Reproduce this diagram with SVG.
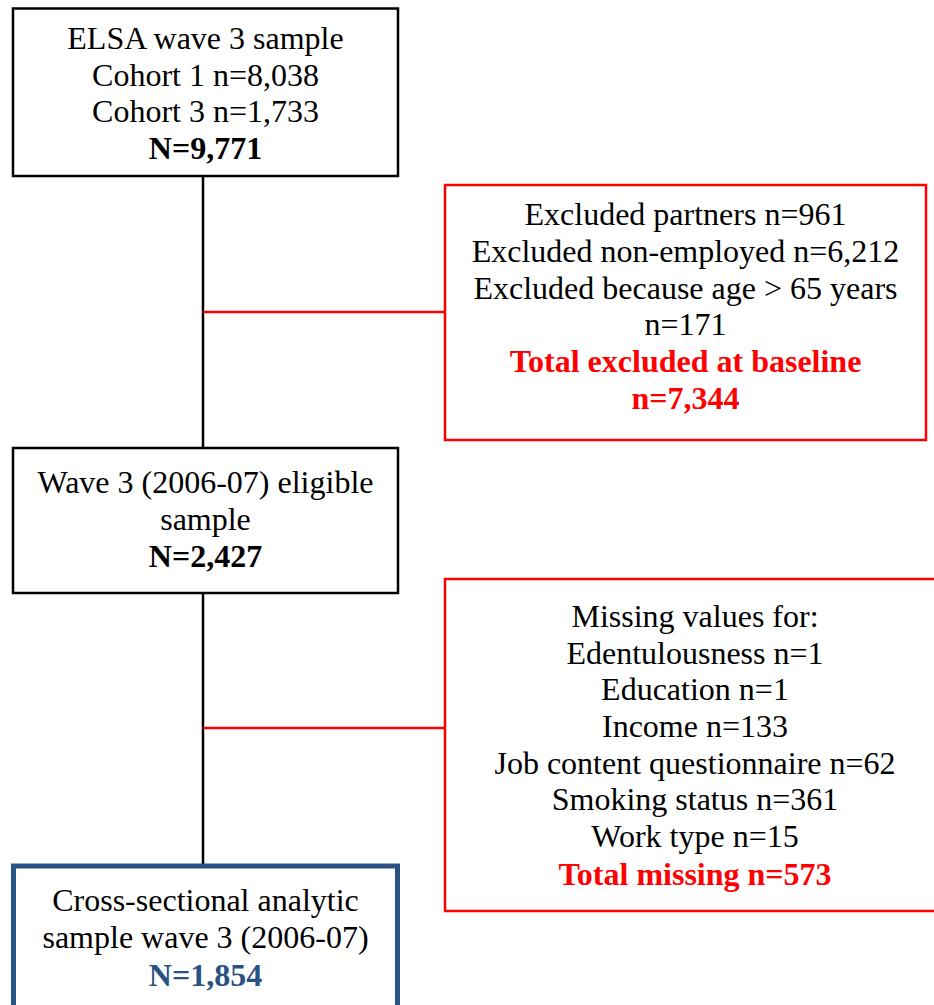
<svg xmlns="http://www.w3.org/2000/svg" width="934" height="1005" viewBox="0 0 934 1005">
<style>
text{font-family:"Liberation Serif","Times New Roman",serif;font-size:32px;text-anchor:middle;fill:#000}
.b{font-weight:bold}
.r{fill:#FF0000;font-weight:bold}
.bl{fill:#2A5183;font-weight:bold}
.box{fill:#fff;stroke:#000;stroke-width:2.5}
.rbox{fill:#fff;stroke:#FF0000;stroke-width:2.5}
.bbox{fill:#fff;stroke:#2A5183;stroke-width:5}
.cb{stroke:#000;stroke-width:2.5;fill:none}
.cr{stroke:#FF0000;stroke-width:2.5;fill:none}
</style>
<rect width="934" height="1005" fill="#fff"/>
<g id="connectors">
<line class="cb" x1="203" y1="176" x2="203" y2="448"/>
<line class="cb" x1="203" y1="593" x2="203" y2="866"/>
<line class="cr" x1="203" y1="312" x2="445" y2="312"/>
<line class="cr" x1="203" y1="728" x2="445" y2="728"/>
</g>
<g id="n1">
<rect class="box" x="13" y="8.5" width="385" height="167.5"/>
<text x="205.5" y="49">ELSA wave 3 sample</text>
<text x="205.5" y="85.5">Cohort 1 n=8,038</text>
<text x="205.5" y="122">Cohort 3 n=1,733</text>
<text x="205.5" y="158.5" class="b">N=9,771</text>
</g>
<g id="n2">
<rect class="rbox" x="445" y="185" width="481" height="255"/>
<text x="685.5" y="225">Excluded partners n=961</text>
<text x="685.5" y="262">Excluded non-employed n=6,212</text>
<text x="685.5" y="298.5">Excluded because age &gt; 65 years</text>
<text x="685.5" y="335">n=171</text>
<text x="685.5" y="372" class="r">Total excluded at baseline</text>
<text x="685.5" y="409" class="r">n=7,344</text>
</g>
<g id="n3">
<rect class="box" x="13" y="448" width="385" height="145"/>
<text x="205.5" y="493">Wave 3 (2006-07) eligible</text>
<text x="205.5" y="530">sample</text>
<text x="205.5" y="567" class="b">N=2,427</text>
</g>
<g id="n4">
<rect class="rbox" x="445" y="579" width="500" height="332"/>
<text x="695" y="627">Missing values for:</text>
<text x="695" y="664">Edentulousness n=1</text>
<text x="695" y="700">Education n=1</text>
<text x="695" y="737">Income n=133</text>
<text x="695" y="774">Job content questionnaire n=62</text>
<text x="695" y="810">Smoking status n=361</text>
<text x="695" y="847">Work type n=15</text>
<text x="695" y="885" class="r">Total missing n=573</text>
</g>
<g id="n5">
<rect class="bbox" x="13.5" y="866" width="384" height="160"/>
<text x="205.5" y="911">Cross-sectional analytic</text>
<text x="205.5" y="948">sample wave 3 (2006-07)</text>
<text x="205.5" y="986" class="bl">N=1,854</text>
</g>
</svg>
